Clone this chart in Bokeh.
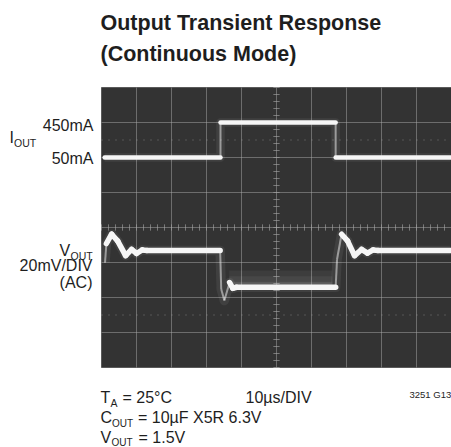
import numpy as np
from bokeh.plotting import figure
from bokeh.models import Range1d, Label
from bokeh.embed import file_html
from bokeh.resources import INLINE

# ---- scope settings ----
time_ticks_us = [0, 10, 20, 30, 40, 50, 60, 70, 80, 90, 100]   # 10us/DIV
div_ticks = [0, 1, 2, 3, 4, 5, 6, 7, 8]
IOUT_ZERO_DIV = 6.0      # 50mA level position
IOUT_MA_PER_DIV = 400.0
VOUT_ZERO_DIV = 3.343    # AC-coupled baseline position
VOUT_MV_PER_DIV = 20.0   # 20mV/DIV

# ---- traces ----
iout_t_us = [0.9, 34.0, 34.0, 66.9, 66.9, 99.7]
iout_mA = [50, 50, 450, 450, 50, 50]

vout_t_us = [1.0, 1.4, 2.9, 4.6, 6.9, 8.6, 10.0, 11.6, 13.0, 33.9,
             34.2, 35.1, 36.6, 37.5, 38.6, 66.9,
             67.3, 68.6, 70.3, 72.3, 74.3, 76.0, 77.6, 79.0, 99.7]
vout_mV = [-7.0, 4.0, 9.3, 5.5, -2.9, 0.6, -1.7, 0.3, 0.0, 0.0,
           -22.0, -28.6, -18.3, -21.6, -21.0, -21.0,
           -5.0, 9.3, 5.5, -2.9, 0.6, -1.5, 0.3, 0.0, 0.0]

ghost_t_us = [36.5, 66.0]
ghost_low_mV = [-21.0, -21.0]
ghost_top_mV = [-11.5, -11.5]

# ---- layout: scope screen occupies px x 101..451, y 87..367 ----
W, H = 451, 447
FRAME_L, FRAME_T = 101, 87
PX_X, PX_Y = 3.5, 35.0
FRAME_B = FRAME_T + 8 * PX_Y

x_lo = -FRAME_L / PX_X
x_hi = (W - FRAME_L) / PX_X
y_hi = FRAME_B / PX_Y
y_lo = (FRAME_B - H) / PX_Y

p = figure(width=W, height=H, x_range=Range1d(x_lo, x_hi), y_range=Range1d(y_lo, y_hi),
           output_backend="svg", toolbar_location=None,
           x_axis_location=None, y_axis_location=None,
           min_border=0, min_border_left=0, min_border_right=0,
           min_border_top=0, min_border_bottom=0,
           background_fill_color="white", border_fill_color="white",
           outline_line_color=None)
p.grid.visible = False

GRID = "#a8a8a8"
# screen
p.quad(left=[time_ticks_us[0]], right=[time_ticks_us[-1]], bottom=[div_ticks[0]], top=[div_ticks[-1]],
       fill_color="#333333", line_color="#5a5a5a", line_width=1)

# graticule
p.segment(x0=time_ticks_us[1:-1], x1=time_ticks_us[1:-1], y0=div_ticks[0], y1=div_ticks[-1],
          line_color=GRID, line_alpha=0.5, line_width=1)
p.segment(x0=time_ticks_us[0], x1=time_ticks_us[-1], y0=div_ticks[1:-1], y1=div_ticks[1:-1],
          line_color=GRID, line_alpha=0.5, line_width=1)
p.segment(x0=time_ticks_us[0], x1=time_ticks_us[-1], y0=[1.5, 6.5], y1=[1.5, 6.5],
          line_color=GRID, line_alpha=0.6, line_width=1, line_dash="1 6")

# center-line minor ticks
ty = np.arange(0, 8.01, 0.2)
p.segment(x0=50 - 0.9, x1=50 + 0.9, y0=ty, y1=ty, line_color=GRID, line_alpha=0.6, line_width=1)
tx = np.arange(0, 100.1, 2.0)
p.segment(x0=tx, x1=tx, y0=4 - 0.09, y1=4 + 0.09, line_color=GRID, line_alpha=0.6, line_width=1)

TRACE = "#f6f6f6"

def draw_trace(xs, ys, width):
    xs = np.asarray(xs, float)
    ys = np.asarray(ys, float)
    p.line(xs, ys, line_color=TRACE, line_alpha=0.07, line_width=width + 4, line_join="round")
    dx = np.diff(xs) * PX_X
    dy = np.diff(ys) * PX_Y
    steep = np.abs(dy) > 3 * np.abs(dx)
    x0, x1, y0, y1 = xs[:-1], xs[1:], ys[:-1], ys[1:]
    p.segment(x0=x0[steep], x1=x1[steep], y0=y0[steep], y1=y1[steep],
              line_color=TRACE, line_alpha=0.5, line_width=2)
    flat = ~steep
    p.segment(x0=x0[flat], x1=x1[flat], y0=y0[flat], y1=y1[flat],
              line_color=TRACE, line_width=width, line_cap="round")

iy = IOUT_ZERO_DIV + (np.array(iout_mA, float) - 50) / IOUT_MA_PER_DIV
draw_trace(iout_t_us, iy, 4.5)

gl = VOUT_ZERO_DIV + np.array(ghost_low_mV) / VOUT_MV_PER_DIV
gt = VOUT_ZERO_DIV + np.array(ghost_top_mV) / VOUT_MV_PER_DIV
for frac, a in ((1.0, 0.05), (0.66, 0.06), (0.33, 0.07)):
    p.varea(x=ghost_t_us, y1=gl, y2=gl + (gt - gl) * frac, fill_color=TRACE, fill_alpha=a)

vy = VOUT_ZERO_DIV + np.array(vout_mV, float) / VOUT_MV_PER_DIV
draw_trace(vout_t_us, vy, 5.5)

# ---- texts ----
FONT = "Liberation Sans"
INK = "#1e1e1e"

def lbl(text, sx, sy, size, align="left", bold=False):
    sy = sy - 0.36 * size   # compensate renderer's baseline placement
    p.add_layout(Label(x=(sx - FRAME_L) / PX_X, y=(FRAME_B - sy) / PX_Y, text=text,
                       text_font=FONT, text_font_size=f"{size}px",
                       text_font_style="bold" if bold else "normal",
                       text_color=INK, text_align=align, text_baseline="alphabetic"))

SUB = 10.5
lbl("Output Transient Response", 100, 30, 21.5, bold=True)
lbl("(Continuous Mode)", 100, 61, 21.5, bold=True)

lbl("450mA", 93, 130.5, 16, "right")
lbl("50mA", 93, 163.5, 16, "right")
lbl("I", 9, 142.5, 16)
lbl("OUT", 13.5, 146.5, SUB)

lbl("V", 59, 256, 16)
lbl("OUT", 70, 259.5, SUB)
lbl("20mV/DIV", 92, 271, 16, "right")
lbl("(AC)", 92, 288, 16, "right")

lbl("T", 100, 403, 16)
lbl("A", 110, 406.5, SUB)
lbl("= 25°C", 122, 403, 16)
lbl("10µs/DIV", 245, 403, 16)
lbl("3251 G13", 409, 397.5, 9.5)

lbl("C", 100, 423, 16)
lbl("OUT", 111.5, 426.5, 10)
lbl("= 10µF X5R 6.3V", 137.5, 423, 16)

lbl("V", 100, 442.5, 16)
lbl("OUT", 111, 445.5, 10)
lbl("= 1.5V", 138, 442.5, 16)

open("out.html", "w").write(file_html(p, INLINE))
